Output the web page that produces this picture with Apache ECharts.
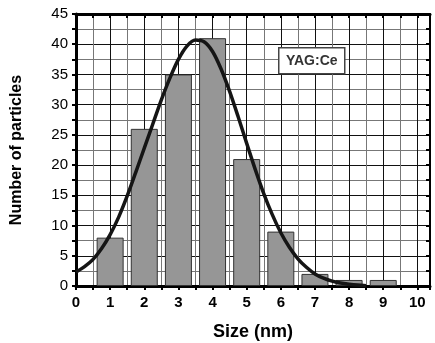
<!DOCTYPE html>
<html>
<head>
<meta charset="utf-8">
<script src="https://cdn.jsdelivr.net/npm/echarts@6/dist/echarts.min.js"></script>
<style>
  html, body { margin: 0; padding: 0; background: #fff; }
  #chart { width: 435px; height: 343px; }
</style>
</head>
<body>
<div id="chart"></div>
<script>
// bar centres and heights (counts)
const sizes = [1, 2, 3, 4, 5, 6, 7, 8, 9];
const counts = [8, 26, 35, 41, 21, 9, 2, 1, 1];
// fitted curve
const fitX = [0, 0.25, 0.5, 0.75, 1, 1.25, 1.5, 1.75, 2, 2.25, 2.5, 2.75, 3, 3.25, 3.5, 3.75, 4, 4.25,
  4.5, 4.75, 5, 5.25, 5.5, 5.75, 6, 6.25, 6.5, 6.75, 7, 7.25, 7.5, 7.75, 8, 8.25, 8.5];
const fitY = [2.3, 3.2, 4.4, 6.2, 8.5, 11.4, 14.9, 18.8, 22.8, 26.8, 30.8, 34.4, 37.5, 39.7, 40.7, 40.4, 38.8, 35.9,
  32.2, 28.0, 23.6, 19.3, 15.3, 11.8, 8.8, 6.4, 4.5, 3.1, 2.0, 1.3, 0.8, 0.5, 0.3, 0.15, 0.05];

const font = "Liberation Sans, Arial, sans-serif";
const myChart = echarts.init(document.getElementById("chart"));

myChart.setOption({
  animation: false,
  grid: { left: 76, right: 5, top: 14, bottom: 57, outerBoundsMode: "none" },
  xAxis: [
    {
      type: "value",
      min: 0,
      max: 10.37,
      interval: 0.5,
      name: "Size (nm)",
      nameLocation: "middle",
      nameGap: 37,
      nameTextStyle: { fontFamily: font, fontSize: 18, fontWeight: "bold", color: "#000" },
      axisLine: { onZero: false, lineStyle: { color: "#000", width: 3 } },
      axisTick: { length: 4, lineStyle: { color: "#000", width: 2 } },
      axisLabel: {
        margin: 9,
        fontFamily: font,
        fontSize: 15,
        fontWeight: "bold",
        color: "#000",
        formatter: (v) => (Number.isInteger(v) ? String(v) : ""),
      },
      splitLine: { show: true, lineStyle: { color: ["#111", "#777"], width: 1 } },
    },
    {
      type: "value",
      position: "top",
      min: 0,
      max: 10.37,
      interval: 0.5,
      axisLine: { onZero: false, lineStyle: { color: "#000", width: 3 } },
      axisTick: { inside: true, length: 4, lineStyle: { color: "#000", width: 2 } },
      axisLabel: { show: false },
      splitLine: { show: false },
    },
  ],
  yAxis: [
    {
      type: "value",
      min: 0,
      max: 45,
      interval: 2.5,
      name: "Number of particles",
      nameLocation: "middle",
      nameGap: 51,
      nameTextStyle: { fontFamily: font, fontSize: 16, fontWeight: "bold", color: "#000" },
      axisLine: { show: true, onZero: false, lineStyle: { color: "#000", width: 3 } },
      axisTick: { show: true, length: 4, lineStyle: { color: "#000", width: 2 } },
      axisLabel: {
        margin: 8,
        fontFamily: font,
        fontSize: 15,
        color: "#000",
        formatter: (v) => (v % 5 === 0 ? String(v) : ""),
      },
      splitLine: { show: true, lineStyle: { color: ["#111", "#777"], width: 1 } },
    },
    {
      type: "value",
      position: "right",
      min: 0,
      max: 45,
      interval: 2.5,
      axisLine: { show: true, onZero: false, lineStyle: { color: "#000", width: 2 } },
      axisTick: { show: true, inside: true, length: 4, lineStyle: { color: "#000", width: 2 } },
      axisLabel: { show: false },
      splitLine: { show: false },
    },
  ],
  graphic: [
    {
      type: "group",
      left: 278,
      top: 47,
      z: 100,
      children: [
        {
          type: "rect",
          z: 100,
          shape: { x: 0, y: 0, width: 66, height: 26 },
          style: { fill: "#fff", stroke: "#444", lineWidth: 1.5 },
        },
        {
          type: "text",
          z: 101,
          x: 33,
          y: 13,
          style: {
            text: "YAG:Ce",
            fill: "#333",
            font: "bold 14px " + font,
            align: "center",
            verticalAlign: "middle",
          },
        },
      ],
    },
  ],
  series: [
    {
      type: "bar",
      data: sizes.map((s, i) => [s, counts[i]]),
      barWidth: 27,
      itemStyle: { color: "#969696", borderColor: "#333", borderWidth: 1 },
      z: 2,
    },
    {
      type: "line",
      data: fitX.map((x, i) => [x, fitY[i]]),
      smooth: 0.3,
      showSymbol: false,
      lineStyle: { color: "#151515", width: 3.5 },
      z: 3,
    },
  ],
});
</script>
</body>
</html>
